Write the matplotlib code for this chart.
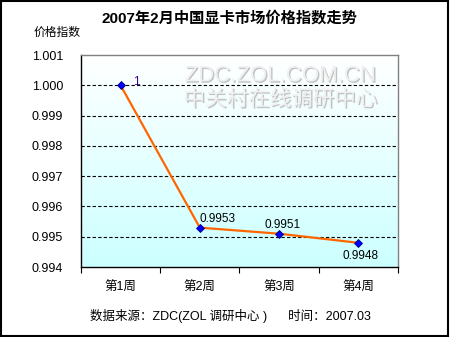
import numpy as np
import matplotlib.pyplot as plt
import matplotlib.patheffects as pe
from matplotlib.patches import Rectangle

plt.rcParams['font.family'] = ['Liberation Sans', 'Noto Sans CJK SC', 'DejaVu Sans']

# weekly price index, Feb 2007
weeks = ['第1周', '第2周', '第3周', '第4周']
index = [1.0, 0.9953, 0.9951, 0.9948]
point_labels = ['1', '0.9953', '0.9951', '0.9948']
yticks = [0.994, 0.995, 0.996, 0.997, 0.998, 0.999, 1.000, 1.001]

fig = plt.figure(figsize=(4.5, 3.37), dpi=100)
ax = fig.add_axes([0.18, 0.2077, 0.704, 0.629])

x = np.arange(len(weeks))

# white-to-cyan background
grad = np.linspace(0, 1, 256).reshape(-1, 1)
top = np.array([1.0, 1.0, 1.0])
bot = np.array([0.8, 1.0, 1.0])
img = top + (bot - top) * grad[:, :, None]
ax.imshow(img, extent=[-0.5, 3.5, 0.994, 1.001], origin='upper', aspect='auto', zorder=0)
ax.set_xlim(-0.5, 3.5)
ax.set_ylim(0.994, 1.001)

for v in yticks[1:-1]:
    ax.axhline(v, color='black', linestyle=(0, (3, 2)), linewidth=0.8, zorder=1)

# watermark
wm = [pe.withSimplePatchShadow(offset=(1, -1), shadow_rgbFace='#aaaaaa', alpha=0.7)]
fig.text(0.623, 0.775, 'ZDC.ZOL.COM.CN', ha='center', va='center', fontsize=16,
         color='#f0f0f0', path_effects=wm)
fig.text(0.623, 0.703, '中关村在线调研中心', ha='center', va='center', fontsize=15.5,
         color='#f0f0f0', path_effects=wm)

ax.plot(x, index, color='#ff6600', linewidth=1.6, zorder=3)
ax.plot(x, index, linestyle='none', marker='D', markersize=4.5,
        markerfacecolor='#0000ff', markeredgecolor='#000080', markeredgewidth=0.6, zorder=4)

offsets = [(0.2, 0.00012), (0.22, 0.00028), (0.04, 0.00028), (0.03, -0.00045)]
for i, (lab, (dx, dy)) in enumerate(zip(point_labels, offsets)):
    col = '#330099' if i == 0 else 'black'
    ax.text(x[i] + dx, index[i] + dy, lab, ha='center', va='center',
            fontsize=8.5, color=col, zorder=5)

ax.set_yticks(yticks)
ax.set_yticklabels(['%.3f' % v for v in yticks], fontsize=9)
ax.tick_params(axis='y', length=0, pad=13)
ax.set_xticks(x)
ax.set_xticklabels(weeks, fontsize=9)
ax.set_xticks([-0.5, 0.5, 1.5, 2.5, 3.5], minor=True)
ax.tick_params(axis='x', which='major', length=0, pad=11)
ax.tick_params(axis='x', which='minor', length=4, width=0.8, direction='out')

for side in ['top', 'right']:
    ax.spines[side].set_color('#808080')
for side in ['left', 'bottom']:
    ax.spines[side].set_color('black')
for s in ax.spines.values():
    s.set_linewidth(1.0)

fig.text(0.51, 0.947, '2007年2月中国显卡市场价格指数走势', ha='center', va='center',
         fontsize=11, fontweight='bold')
fig.text(0.127, 0.902, '价格指数', ha='center', va='center', fontsize=8.5)
fig.text(0.513, 0.062, '数据来源：ZDC(ZOL 调研中心 )      时间：2007.03',
         ha='center', va='center', fontsize=9)

fig.patches.append(Rectangle((0.002, 0.003), 0.994, 0.994, transform=fig.transFigure,
                             fill=False, edgecolor='black', linewidth=1.5))

fig.savefig('out.png', dpi=100)
